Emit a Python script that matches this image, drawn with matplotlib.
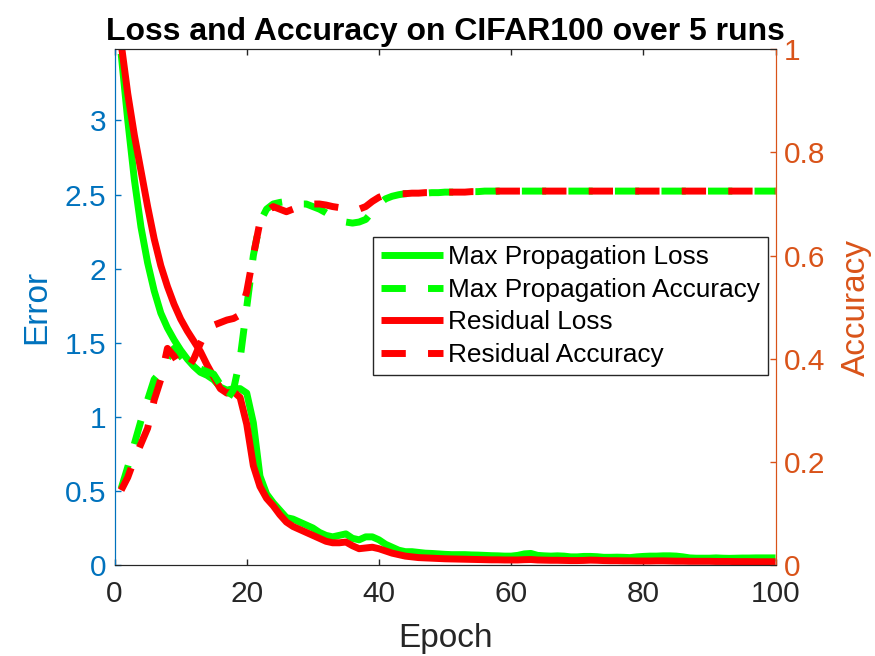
import numpy as np
import matplotlib
matplotlib.use("Agg")
import matplotlib.pyplot as plt

plt.rcParams['font.family'] = ['Liberation Sans', 'DejaVu Sans']

# Data (epochs 1..100)
epochs = list(range(1, 101))

mp_loss = [3.45, 3.00, 2.60, 2.28, 2.04, 1.85, 1.70, 1.60, 1.52, 1.45,
           1.39, 1.34, 1.30, 1.28, 1.25, 1.20, 1.18, 1.19, 1.19, 1.16,
           0.96, 0.60, 0.48, 0.42, 0.37, 0.32, 0.31, 0.29, 0.27, 0.25,
           0.22, 0.20, 0.19, 0.20, 0.21, 0.18, 0.17, 0.19, 0.19, 0.17,
           0.14, 0.12, 0.10, 0.09, 0.09, 0.085, 0.08, 0.078, 0.075, 0.072,
           0.07, 0.07, 0.07, 0.068, 0.067, 0.065, 0.063, 0.062, 0.06, 0.06,
           0.065, 0.075, 0.078, 0.065, 0.062, 0.06, 0.062, 0.06, 0.055, 0.055,
           0.058, 0.058, 0.056, 0.052, 0.052, 0.053, 0.052, 0.05, 0.055, 0.058,
           0.06, 0.06, 0.062, 0.062, 0.06, 0.055, 0.048, 0.046, 0.046, 0.046,
           0.048, 0.046, 0.045, 0.046, 0.047, 0.047, 0.048, 0.048, 0.048, 0.048]

res_loss = [3.52, 3.18, 2.90, 2.66, 2.42, 2.20, 2.02, 1.88, 1.76, 1.66,
            1.58, 1.51, 1.44, 1.35, 1.27, 1.19, 1.16, 1.17, 1.13, 0.95,
            0.67, 0.53, 0.45, 0.40, 0.34, 0.29, 0.26, 0.24, 0.22, 0.20,
            0.18, 0.16, 0.15, 0.15, 0.155, 0.13, 0.11, 0.115, 0.12, 0.11,
            0.095, 0.08, 0.07, 0.06, 0.055, 0.05, 0.048, 0.046, 0.044, 0.042,
            0.041, 0.04, 0.039, 0.038, 0.037, 0.036, 0.035, 0.035, 0.034, 0.034,
            0.034, 0.036, 0.037, 0.034, 0.033, 0.032, 0.032, 0.031, 0.03, 0.03,
            0.031, 0.033, 0.032, 0.03, 0.029, 0.029, 0.028, 0.028, 0.027, 0.027,
            0.027, 0.028, 0.028, 0.027, 0.026, 0.026, 0.025, 0.025, 0.025, 0.025,
            0.024, 0.024, 0.024, 0.023, 0.023, 0.023, 0.022, 0.022, 0.022, 0.022]

mp_acc = [0.148, 0.19, 0.235, 0.28, 0.32, 0.36, 0.375, 0.40, 0.42, 0.405,
          0.39, 0.385, 0.38, 0.375, 0.37, 0.35, 0.32, 0.34, 0.40, 0.50,
          0.60, 0.665, 0.69, 0.70, 0.703, 0.705, 0.705, 0.70, 0.70, 0.695,
          0.69, 0.683, 0.675, 0.668, 0.665, 0.663, 0.665, 0.67, 0.685, 0.70,
          0.71, 0.715, 0.718, 0.72, 0.72, 0.721, 0.721, 0.722, 0.722, 0.723,
          0.723, 0.723, 0.724, 0.724, 0.724, 0.725, 0.725, 0.725, 0.725, 0.725,
          0.725, 0.725, 0.725, 0.725, 0.725, 0.725, 0.725, 0.725, 0.725, 0.725,
          0.725, 0.725, 0.725, 0.725, 0.725, 0.725, 0.725, 0.725, 0.725, 0.725,
          0.725, 0.725, 0.725, 0.725, 0.725, 0.725, 0.725, 0.725, 0.725, 0.725,
          0.725, 0.725, 0.725, 0.725, 0.725, 0.725, 0.725, 0.725, 0.725, 0.725]

res_acc = [0.145, 0.17, 0.205, 0.235, 0.265, 0.32, 0.36, 0.42, 0.405, 0.385,
           0.38, 0.40, 0.43, 0.455, 0.465, 0.47, 0.475, 0.478, 0.485, 0.53,
           0.60, 0.665, 0.685, 0.695, 0.69, 0.685, 0.69, 0.695, 0.698, 0.70,
           0.70, 0.698, 0.695, 0.693, 0.69, 0.688, 0.69, 0.695, 0.705, 0.713,
           0.718, 0.72, 0.72, 0.72, 0.721, 0.721, 0.722, 0.722, 0.722, 0.723,
           0.723, 0.723, 0.723, 0.724, 0.724, 0.724, 0.724, 0.725, 0.725, 0.725,
           0.725, 0.725, 0.725, 0.725, 0.725, 0.725, 0.725, 0.725, 0.725, 0.725,
           0.725, 0.725, 0.725, 0.725, 0.725, 0.725, 0.725, 0.725, 0.725, 0.725,
           0.725, 0.725, 0.725, 0.725, 0.725, 0.725, 0.725, 0.725, 0.725, 0.725,
           0.725, 0.725, 0.725, 0.725, 0.725, 0.725, 0.725, 0.725, 0.725, 0.725]

blue = '#0072BD'
orange = '#D95319'
dark = '#262626'

fig = plt.figure(figsize=(8.75, 6.56), dpi=100)
ax = fig.add_axes([0.1309, 0.1387, 0.7554, 0.7862])
ax2 = ax.twinx()

lw = 5
dash = (3.5, 3.2)

l1, = ax.plot(epochs, mp_loss, color=(0, 1, 0), lw=lw, solid_capstyle='butt')
l3, = ax.plot(epochs, res_loss, color=(1, 0, 0), lw=lw, solid_capstyle='butt')
l2, = ax2.plot(epochs, mp_acc, color=(0, 1, 0), lw=lw, dashes=dash)
l4, = ax2.plot(epochs, res_acc, color=(1, 0, 0), lw=lw, dashes=dash)

ax.set_xlim(0, 100)
ax.set_ylim(0, 3.48)
ax2.set_ylim(0, 1)
ax.set_xticks([0, 20, 40, 60, 80, 100])
ax.set_yticks([0, 0.5, 1, 1.5, 2, 2.5, 3])
ax.set_yticklabels(['0', '0.5', '1', '1.5', '2', '2.5', '3'])
ax2.set_yticks([0, 0.2, 0.4, 0.6, 0.8, 1])
ax2.set_yticklabels(['0', '0.2', '0.4', '0.6', '0.8', '1'])

ax.tick_params(axis='x', direction='in', length=4.5, width=1, labelsize=21.5,
               colors=dark, top=True, pad=10.5)
ax.tick_params(axis='y', direction='in', length=4.5, width=1, labelsize=21.5,
               colors=blue, pad=6)
ax2.tick_params(axis='y', direction='in', length=4.5, width=1, labelsize=21.5,
                colors=orange, pad=6)

for a in (ax, ax2):
    a.spines['top'].set_color(dark)
    a.spines['bottom'].set_color(dark)
    a.spines['left'].set_color(blue)
    a.spines['right'].set_color(orange)

ax.set_xlabel('Epoch', fontsize=24, color=dark, labelpad=11)
ax.set_ylabel('Error', fontsize=24, color=blue, labelpad=9)
ax2.set_ylabel('Accuracy', fontsize=24, color=orange, labelpad=11)
ax.set_title('Loss and Accuracy on CIFAR100 over 5 runs', fontsize=23,
             fontweight='bold', pad=7)

leg = ax2.legend([l1, l2, l3, l4],
                 ['Max Propagation Loss', 'Max Propagation Accuracy',
                  'Residual Loss', 'Residual Accuracy'],
                 loc='upper left', bbox_to_anchor=(0.3915, 0.6355),
                 borderaxespad=0, fontsize=18.9, handlelength=2.35,
                 handletextpad=0.2, labelspacing=0.33, borderpad=0.3,
                 fancybox=False, framealpha=1, edgecolor=dark)
leg.get_frame().set_linewidth(1)

fig.savefig('out.png', dpi=100)
